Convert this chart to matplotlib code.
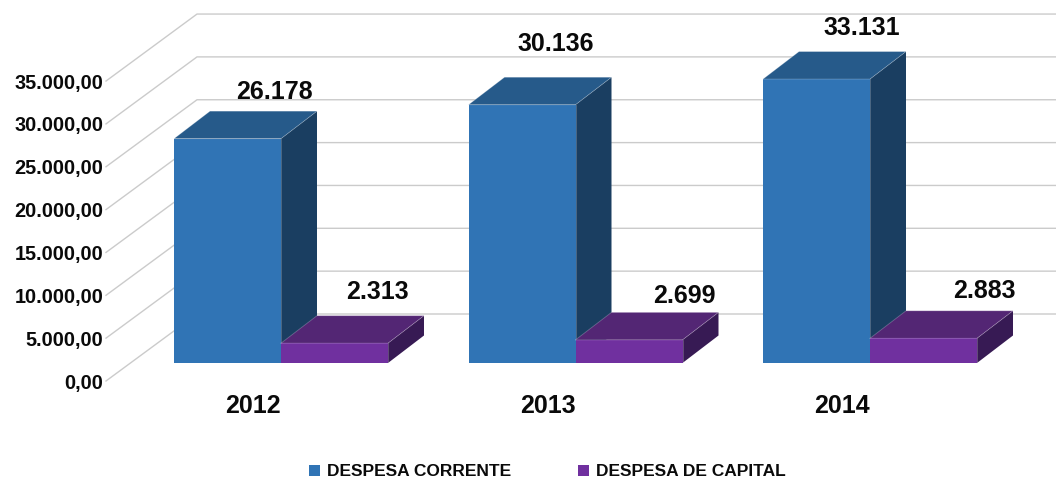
"""3D-look bar chart of despesa corrente / despesa de capital."""

import matplotlib
matplotlib.use("Agg")
import matplotlib.pyplot as plt
from matplotlib.patches import Patch, Polygon

years = ["2012", "2013", "2014"]
corrente = [26178, 30136, 33131]
capital = [2313, 2699, 2883]
y_ticks = [0, 5000, 10000, 15000, 20000, 25000, 30000, 35000]

BLUE = ("#3074b5", "#265a8a", "#1a3e61")
PURPLE = ("#70309f", "#532674", "#371a54")

W, H = 1056, 478
PX_X = 294.5          # pixels per category
PX_Y = 0.00857        # pixels per value unit
X0, Y0 = 281, 363     # pixel position of category 0, value 0
BAR_W = 107 / PX_X
DEPTH_X = 36 / PX_X
DEPTH_Y = 27.5 / PX_Y

plt.rcParams["font.family"] = ["Liberation Sans", "DejaVu Sans"]
plt.rcParams["font.weight"] = "bold"

fig = plt.figure(figsize=(W / 100, H / 100), dpi=100)
ax = fig.add_axes([0, 0, 1, 1])
ax.set_xlim(-X0 / PX_X, (W - X0) / PX_X)
ax.set_ylim((Y0 - H) / PX_Y, Y0 / PX_Y)
ax.axis("off")


def px(x):
    return (x - X0) / PX_X


def draw_bar(left, value, colors, z):
    right = left + BAR_W
    top_y = value
    front = [(left, 0), (right, 0), (right, top_y), (left, top_y)]
    top = [(left, top_y), (right, top_y), (right + DEPTH_X, top_y + DEPTH_Y), (left + DEPTH_X, top_y + DEPTH_Y)]
    side = [(right, 0), (right + DEPTH_X, DEPTH_Y), (right + DEPTH_X, top_y + DEPTH_Y), (right, top_y)]
    ax.add_patch(Polygon(side, closed=True, facecolor=colors[2], edgecolor="none", zorder=z))
    ax.add_patch(Polygon(top, closed=True, facecolor=colors[1], edgecolor="none", zorder=z))
    ax.add_patch(Polygon(front, closed=True, facecolor=colors[0], edgecolor="none", zorder=z))
    # thin highlight along the box edges
    ax.plot([left, left + DEPTH_X, right + DEPTH_X, right, left],
            [top_y, top_y + DEPTH_Y, top_y + DEPTH_Y, top_y, top_y],
            color="#ffffff", alpha=0.25, linewidth=0.6, zorder=z + 0.1)
    ax.plot([right, right], [0, top_y], color="#ffffff", alpha=0.25, linewidth=0.6, zorder=z + 0.1)


# walls: diagonal side lines and horizontal back lines
wall_offset = 49 / PX_Y   # back wall zero sits 49 px above the bar base
front_offset = -18 / PX_Y  # front edge zero sits 18 px below the bar base
for v in y_ticks:
    ax.plot([px(106), px(197), px(W)],
            [v + front_offset, v + wall_offset, v + wall_offset],
            color="#cbcbcb", linewidth=1.0, zorder=1)
    label = f"{v:,.2f}".replace(",", "X").replace(".", ",").replace("X", ".")
    ax.text(px(103.5), v + front_offset - 2 / PX_Y, label, ha="right", va="center", fontsize=14.3, color="#0a0a0a", zorder=5)

# bars
for i in range(len(years)):
    draw_bar(i - BAR_W, corrente[i], BLUE, 2 + i)
    draw_bar(i, capital[i], PURPLE, 2.5 + i)

# value labels sit at hand-placed pixel offsets from their bars
corrente_off = [(47, 19), (34, 33), (45, 24)]
capital_off = [(43, 24), (55, 16), (61, 20)]
for i in range(len(years)):
    ax.annotate(f"{corrente[i]:,}".replace(",", "."), (i - BAR_W / 2, corrente[i] + DEPTH_Y),
                xytext=corrente_off[i], textcoords="offset pixels",
                ha="center", va="center", fontsize=18, color="#0a0a0a", zorder=8)
    ax.annotate(f"{capital[i]:,}".replace(",", "."), (i + BAR_W / 2, capital[i] + DEPTH_Y),
                xytext=capital_off[i], textcoords="offset pixels",
                ha="center", va="center", fontsize=18, color="#0a0a0a", zorder=8)

# year labels
for i, yr in enumerate(years):
    ax.text(i - BAR_W / 4 - 1 / PX_X, -43 / PX_Y, yr, ha="center", va="center", fontsize=18, color="#0a0a0a")

handles = [Patch(facecolor=BLUE[0], label="DESPESA CORRENTE"), Patch(facecolor=PURPLE[0], label="DESPESA DE CAPITAL")]
fig.legend(handles=handles, loc="center", bbox_to_anchor=(547.5 / W, 1 - 472 / H), ncol=2, frameon=False,
           fontsize=12.55, handlelength=0.62, handleheight=0.62, handletextpad=0.4, columnspacing=3.84, labelcolor="#0a0a0a")

fig.savefig("out.png", dpi=100)
plt.close(fig)
